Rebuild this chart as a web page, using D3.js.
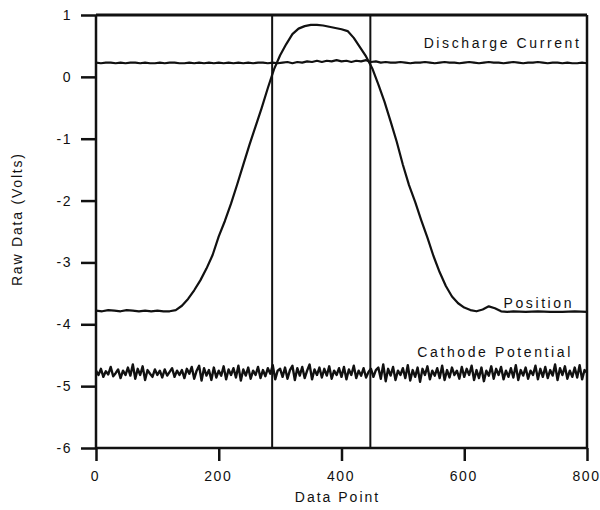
<!DOCTYPE html>
<html>
<head>
<meta charset="utf-8">
<script src="https://cdn.jsdelivr.net/npm/d3@7"></script>
<style>
  html, body { margin: 0; padding: 0; background: #fff; }
  text { font-family: "Liberation Sans", Arial, sans-serif; fill: #111; }
</style>
</head>
<body>
<div id="chart"></div>
<script>
// Tick values
const xTicks = [0, 200, 400, 600, 800];
const yTicks = [1, 0, -1, -2, -3, -4, -5, -6];

// Vertical marker lines (data point index)
const markers = [287, 447];

// Position trace: [data point, volts]
const positionX = [0, 10, 20, 30, 40, 50, 60, 70, 80, 90, 100, 110, 120, 130, 140, 150, 160, 170, 180, 190,
  200, 210, 220, 230, 240, 250, 260, 270, 280, 290, 300, 310, 320, 330, 340, 350, 360, 370, 380, 390,
  400, 410, 420, 430, 440, 450, 460, 470, 480, 490, 500, 510, 520, 530, 540, 550, 560, 570, 580, 590,
  600, 610, 620, 630, 640, 650, 660, 670, 680, 700, 720, 740, 760, 780, 800];
const positionY = [-3.78, -3.79, -3.77, -3.78, -3.79, -3.77, -3.78, -3.79, -3.78, -3.79, -3.78, -3.79, -3.79, -3.77, -3.70, -3.59, -3.45, -3.29, -3.10, -2.88,
  -2.58, -2.33, -2.05, -1.74, -1.42, -1.10, -0.80, -0.50, -0.18, 0.12, 0.35, 0.53, 0.69, 0.78, 0.82, 0.84, 0.84, 0.83, 0.81, 0.79,
  0.77, 0.74, 0.63, 0.48, 0.33, 0.14, -0.12, -0.40, -0.72, -1.05, -1.42, -1.75, -2.02, -2.32, -2.60, -2.90, -3.16, -3.38, -3.55, -3.66,
  -3.73, -3.77, -3.79, -3.76, -3.71, -3.74, -3.79, -3.80, -3.79, -3.80, -3.79, -3.80, -3.80, -3.79, -3.80];

// Discharge current trace, one sample every 8 data points
const dischargeStep = 8;
const dischargeY = [
  0.23, 0.22, 0.23, 0.23, 0.22, 0.23, 0.22, 0.23, 0.23, 0.22, 0.23, 0.22, 0.22, 0.23, 0.22, 0.23, 0.23, 0.22, 0.22, 0.23, 0.22, 0.23, 0.22, 0.23, 0.22,
  0.23, 0.22, 0.23, 0.22, 0.23, 0.22, 0.23, 0.22, 0.23, 0.23, 0.22, 0.23, 0.22, 0.23, 0.24, 0.22, 0.24, 0.23, 0.25, 0.24, 0.26, 0.24, 0.26, 0.25, 0.27,
  0.25, 0.26, 0.24, 0.26, 0.25, 0.27, 0.24, 0.25, 0.23, 0.24, 0.23, 0.23, 0.24, 0.23, 0.22, 0.23, 0.23, 0.24, 0.23, 0.22, 0.23, 0.24, 0.23, 0.23, 0.22,
  0.23, 0.24, 0.23, 0.22, 0.23, 0.24, 0.23, 0.23, 0.22, 0.23, 0.24, 0.23, 0.22, 0.23, 0.23, 0.24, 0.23, 0.22, 0.23, 0.23, 0.22, 0.23, 0.22, 0.22, 0.23,
  0.22];

// Cathode potential trace, one sample every 4 data points
const cathodeStep = 4;
const cathodeY = [
  -4.75, -4.82, -4.72, -4.85, -4.76, -4.81, -4.69, -4.84, -4.79, -4.73, -4.87, -4.75, -4.82, -4.70, -4.83, -4.65, -4.88, -4.72, -4.82, -4.68, -4.90, -4.74, -4.80, -4.85, -4.73,
  -4.82, -4.75, -4.86, -4.73, -4.83, -4.77, -4.71, -4.85, -4.75, -4.82, -4.74, -4.87, -4.72, -4.80, -4.69, -4.88, -4.75, -4.67, -4.91, -4.71, -4.83, -4.74, -4.90, -4.70, -4.86,
  -4.75, -4.83, -4.68, -4.89, -4.73, -4.82, -4.71, -4.86, -4.67, -4.91, -4.73, -4.83, -4.70, -4.88, -4.75, -4.82, -4.69, -4.87, -4.74, -4.84, -4.71, -4.80, -4.66, -4.89, -4.75,
  -4.72, -4.85, -4.70, -4.88, -4.74, -4.67, -4.90, -4.71, -4.83, -4.69, -4.87, -4.75, -4.65, -4.89, -4.73, -4.82, -4.70, -4.86, -4.72, -4.83, -4.68, -4.88, -4.75, -4.82, -4.71,
  -4.85, -4.69, -4.89, -4.73, -4.82, -4.67, -4.87, -4.75, -4.83, -4.71, -4.86, -4.77, -4.72, -4.85, -4.74, -4.70, -4.88, -4.65, -4.92, -4.72, -4.83, -4.69, -4.90, -4.75, -4.82,
  -4.71, -4.87, -4.66, -4.91, -4.74, -4.85, -4.70, -4.93, -4.72, -4.82, -4.68, -4.89, -4.75, -4.83, -4.71, -4.87, -4.67, -4.90, -4.74, -4.86, -4.70, -4.82, -4.75, -4.88, -4.69,
  -4.85, -4.72, -4.82, -4.67, -4.90, -4.74, -4.87, -4.70, -4.92, -4.75, -4.83, -4.68, -4.88, -4.72, -4.82, -4.69, -4.89, -4.75, -4.85, -4.71, -4.86, -4.66, -4.90, -4.74, -4.83,
  -4.70, -4.88, -4.75, -4.82, -4.67, -4.89, -4.72, -4.85, -4.69, -4.87, -4.74, -4.83, -4.65, -4.90, -4.71, -4.82, -4.68, -4.88, -4.75, -4.85, -4.70, -4.86, -4.66, -4.89, -4.74,
  -4.78];

// Trace labels
const traceLabels = [
  { text: "Discharge Current", x: 791, y: 0.23, dy: -15 },
  { text: "Position", x: 779, y: -3.80, dy: -4 },
  { text: "Cathode Potential", x: 777, y: -4.78, dy: -16 }
];

const W = 600, H = 510;
const margin = { top: 15, right: 13, bottom: 62, left: 96 };
const width = W - margin.left - margin.right;
const height = H - margin.top - margin.bottom;

const svg = d3.select("#chart").append("svg")
  .attr("width", W)
  .attr("height", H);

const g = svg.append("g")
  .attr("transform", `translate(${margin.left},${margin.top})`);

const x = d3.scaleLinear().domain([0, 800]).range([0, width]);
const y = d3.scaleLinear().domain([-6, 1]).range([height, 0]);

const line = d3.line().x(d => x(d[0])).y(d => y(d[1]));

// Axes (ticks pointing outward, thick)
const gx = g.append("g")
  .attr("transform", `translate(0,${height})`)
  .call(d3.axisBottom(x).tickValues(xTicks).tickSize(13).tickPadding(10).tickFormat(d3.format("d")));
const gy = g.append("g")
  .call(d3.axisLeft(y).tickValues(yTicks).tickSize(15).tickPadding(9).tickFormat(d => d < 0 ? "-" + Math.abs(d) : d));

[gx, gy].forEach(ax => {
  ax.select(".domain").remove();
  ax.selectAll(".tick line").attr("stroke", "#111").attr("stroke-width", 2.5);
  ax.selectAll(".tick text")
    .style("font-family", "'Liberation Sans', Arial, sans-serif")
    .style("font-size", "14px")
    .style("letter-spacing", "1.5px")
    .attr("fill", "#111");
});
gx.selectAll(".tick text").attr("dx", "-1px");

// Frame
g.append("line").attr("x1", 0).attr("x2", width).attr("y1", y(1)).attr("y2", y(1))
  .attr("stroke", "#111").attr("stroke-width", 3);
g.append("line").attr("x1", 0).attr("x2", width).attr("y1", y(-6)).attr("y2", y(-6))
  .attr("stroke", "#111").attr("stroke-width", 2.5);
g.append("line").attr("x1", x(0)).attr("x2", x(0)).attr("y1", y(1)).attr("y2", y(-6))
  .attr("stroke", "#111").attr("stroke-width", 2.5);
g.append("line").attr("x1", x(800)).attr("x2", x(800)).attr("y1", y(1)).attr("y2", y(-6))
  .attr("stroke", "#111").attr("stroke-width", 2.5);

// Vertical markers
g.selectAll(".marker")
  .data(markers)
  .join("line")
  .attr("class", "marker")
  .attr("x1", d => x(d)).attr("x2", d => x(d))
  .attr("y1", y(1)).attr("y2", y(-6))
  .attr("stroke", "#111")
  .attr("stroke-width", 2);

// Traces
const position = positionX.map((v, i) => [v, positionY[i]]);
const discharge = dischargeY.map((v, i) => [i * dischargeStep, v]);
const cathode = cathodeY.map((v, i) => [i * cathodeStep, v]);

g.selectAll(".trace")
  .data([discharge, position, cathode])
  .join("path")
  .attr("class", "trace")
  .attr("d", line)
  .attr("fill", "none")
  .attr("stroke", "#111")
  .attr("stroke-width", (d, i) => i === 2 ? 2.4 : 2.2)
  .attr("stroke-linejoin", "round");

// Trace labels
g.selectAll(".trace-label")
  .data(traceLabels)
  .join("text")
  .attr("class", "trace-label")
  .attr("x", d => x(d.x))
  .attr("y", d => y(d.y) + d.dy)
  .attr("text-anchor", "end")
  .style("font-size", "14px")
  .style("letter-spacing", "2.6px")
  .text(d => d.text);

// Axis titles
svg.append("text")
  .attr("x", margin.left + width / 2 - 4)
  .attr("y", 502)
  .attr("text-anchor", "middle")
  .style("font-size", "14px")
  .style("letter-spacing", "2px")
  .text("Data Point");

svg.append("text")
  .attr("transform", `translate(22,${margin.top + y(-2.3)}) rotate(-90)`)
  .attr("text-anchor", "middle")
  .style("font-size", "14px")
  .style("letter-spacing", "1.8px")
  .text("Raw Data (Volts)");
</script>
</body>
</html>
